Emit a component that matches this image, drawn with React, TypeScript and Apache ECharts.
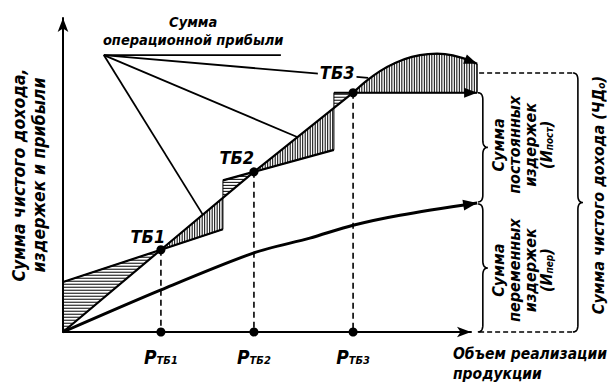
import React, { useEffect, useRef } from "react";
import * as echarts from "echarts";

// ---- data (value units: x = sales volume 0..100, y = amount 0..100) ----
const revenueX = [0, 24.0, 46.8, 71.1];
const revenueY = [0, 26.2, 51.0, 76.2];
const arcX = [71.1, 74.3, 77.7, 81.4, 85.5, 89.5, 93.6, 97.8, 101.5];
const arcY = [76.2, 79.9, 83.1, 85.7, 87.6, 88.5, 88.5, 87.3, 85.4];
const costStartX = [0, 39.2, 66.4];
const costStartY = [15.9, 48.3, 76.2];
const costEndX = [39.2, 66.4, 101.5];
const costEndY = [32.7, 58.0, 76.2];
const varCostX = [0, 24.0, 46.8, 60.5, 71.1, 82.6, 101.5];
const varCostY = [0, 13.4, 25.2, 29.9, 34.0, 37.2, 41.1];
const breakEvenNames = ["ТБ1", "ТБ2", "ТБ3"];
const breakEvenX = [24.0, 46.8, 71.1];
const breakEvenY = [26.2, 51.0, 76.2];

// ---- annotation layout (value units) ----
const breakEvenLabelPos = [[20.8, 30.3], [42.6, 55.7], [67.2, 82.8]];
const pointerOrigin = [10.0, 88.2];
const pointerTargets = [[53.4, 88.2], [74.8, 80.9], [57.4, 62.1], [34.3, 37.3]];
const profitTitlePos = [31.9, 95.9];
const innerBraceX = 102.9;
const outerBraceX = 126.2;
const topLevelY = 82.5;
const fixedTextPos = [112.6, 59.6];
const varTextPos = [112.6, 19.7];
const totalTextPos = [131.2, 43.6];

const FONT = '"Liberation Sans Narrow", "DejaVu Sans Condensed", "Liberation Sans", sans-serif';

const allRevX = revenueX.concat(arcX.slice(1));
const allRevY = revenueY.concat(arcY.slice(1));
function rev(x: number) {
  for (let i = 0; i < allRevX.length - 1; i++) {
    if (x >= allRevX[i] && x <= allRevX[i + 1]) {
      const t = (x - allRevX[i]) / (allRevX[i + 1] - allRevX[i]);
      return allRevY[i] + t * (allRevY[i + 1] - allRevY[i]);
    }
  }
  return allRevY[allRevY.length - 1];
}

function hatch(pts: number[][], dir: "h" | "v", gap: number) {
  const a = dir === "h" ? 1 : 0;
  const b = 1 - a;
  let min = Infinity, max = -Infinity;
  pts.forEach((p) => { min = Math.min(min, p[a]); max = Math.max(max, p[a]); });
  const out: any[] = [];
  for (let s = min + gap / 2; s < max; s += gap) {
    const xs: number[] = [];
    for (let i = 0; i < pts.length; i++) {
      const p = pts[i], q = pts[(i + 1) % pts.length];
      if ((p[a] <= s && q[a] > s) || (q[a] <= s && p[a] > s)) {
        const t = (s - p[a]) / (q[a] - p[a]);
        xs.push(p[b] + t * (q[b] - p[b]));
      }
    }
    xs.sort((u, v) => u - v);
    for (let k = 0; k + 1 < xs.length; k += 2) {
      const p1 = [0, 0], p2 = [0, 0];
      p1[a] = s; p1[b] = xs[k]; p2[a] = s; p2[b] = xs[k + 1];
      out.push({ type: "line", shape: { x1: p1[0], y1: p1[1], x2: p2[0], y2: p2[1] }, style: { stroke: "#000", lineWidth: 1 } });
    }
  }
  out.push({ type: "polygon", shape: { points: pts }, style: { fill: "none", stroke: "#000", lineWidth: 1 } });
  return out;
}

function arrowHead(from: number[], to: number[], len = 13, w = 5) {
  const dx = to[0] - from[0], dy = to[1] - from[1];
  const L = Math.hypot(dx, dy) || 1;
  const ux = dx / L, uy = dy / L;
  const bx = to[0] - ux * len, by = to[1] - uy * len;
  return {
    type: "polygon",
    shape: { points: [to, [bx - uy * w, by + ux * w], [bx + uy * w, by - ux * w]] },
    style: { fill: "#000" },
  };
}

function quad(p0: number[], c: number[], p1: number[], n = 8) {
  const pts: number[][] = [];
  for (let i = 0; i <= n; i++) {
    const t = i / n;
    pts.push([
      (1 - t) * (1 - t) * p0[0] + 2 * (1 - t) * t * c[0] + t * t * p1[0],
      (1 - t) * (1 - t) * p0[1] + 2 * (1 - t) * t * c[1] + t * t * p1[1],
    ]);
  }
  return pts;
}

function brace(x: number, y1: number, y2: number, w = 5, r = 7) {
  const ym = (y1 + y2) / 2;
  const pts = [
    ...quad([x - w, y1], [x, y1], [x, y1 + r]),
    ...quad([x, ym - r], [x, ym], [x + w, ym]),
    ...quad([x + w, ym], [x, ym], [x, ym + r]),
    ...quad([x, y2 - r], [x, y2], [x - w, y2]),
  ];
  return { type: "polyline", shape: { points: pts }, style: { stroke: "#000", lineWidth: 1.6, fill: "none" } };
}

const textBase = { fontFamily: FONT, fontStyle: "italic", fontWeight: "bold", fill: "#000" };

function renderItem(params: any, api: any) {
  const c = (x: number, y: number) => api.coord([x, y]);
  const ch: any[] = [];

  // hatched loss / profit areas
  for (let i = 0; i < 3; i++) {
    const sx = costStartX[i], sy = costStartY[i], ex = costEndX[i], ey = costEndY[i];
    const bx = breakEvenX[i], by = breakEvenY[i];
    const loss = [c(sx, sy), c(bx, by), c(sx, rev(sx))];
    ch.push(...hatch(loss, "h", 3));
    const prof: number[][] = [c(bx, by)];
    allRevX.forEach((x, k) => { if (x > bx && x < ex) prof.push(c(x, allRevY[k])); });
    prof.push(c(ex, rev(ex)), c(ex, ey));
    ch.push(...hatch(prof, "v", 2.5));
  }

  // revenue line and arc
  ch.push({ type: "polyline", shape: { points: revenueX.map((x, i) => c(x, revenueY[i])) }, style: { stroke: "#000", lineWidth: 2.2, fill: "none" } });
  const arcPts = arcX.map((x, i) => c(x, arcY[i]));
  ch.push({ type: "polyline", shape: { points: arcPts, smooth: 0.4 }, style: { stroke: "#000", lineWidth: 2.2, fill: "none" } });
  ch.push(arrowHead(arcPts[arcPts.length - 2], arcPts[arcPts.length - 1]));

  // total cost steps
  for (let i = 0; i < 3; i++) {
    const p0 = c(costStartX[i], costStartY[i]), p1 = c(costEndX[i], costEndY[i]);
    ch.push({ type: "line", shape: { x1: p0[0], y1: p0[1], x2: p1[0], y2: p1[1] }, style: { stroke: "#000", lineWidth: 2.2 } });
    if (i === 2) ch.push(arrowHead(c(breakEvenX[2], breakEvenY[2]), p1));
  }

  // variable costs
  const vPts = varCostX.map((x, i) => c(x, varCostY[i]));
  ch.push({ type: "polyline", shape: { points: vPts, smooth: 0.3 }, style: { stroke: "#000", lineWidth: 3, fill: "none" } });
  ch.push(arrowHead(vPts[vPts.length - 2], vPts[vPts.length - 1], 14, 5.5));

  // break-even verticals, dots, labels
  for (let i = 0; i < 3; i++) {
    const top = c(breakEvenX[i], breakEvenY[i]), bot = c(breakEvenX[i], 0);
    ch.push({ type: "line", shape: { x1: top[0], y1: top[1], x2: bot[0], y2: bot[1] }, style: { stroke: "#000", lineWidth: 1.6, lineDash: [6, 4] } });
    ch.push({ type: "circle", shape: { cx: top[0], cy: top[1], r: 4.5 }, style: { fill: "#000" } });
    ch.push({ type: "circle", shape: { cx: bot[0], cy: bot[1], r: 4.5 }, style: { fill: "#000" } });
    ch.push({
      type: "text", x: bot[0], y: bot[1] + 23,
      style: {
        text: "{p|P}{s|" + breakEvenNames[i] + "}", align: "center", verticalAlign: "middle",
        rich: {
          p: { ...textBase, fontSize: 19, lineHeight: 22, verticalAlign: "bottom" },
          s: { ...textBase, fontSize: 11, lineHeight: 14, verticalAlign: "bottom" },
        },
      },
    });
  }

  // pointer lines
  const o = c(pointerOrigin[0], pointerOrigin[1]);
  pointerTargets.forEach((t) => {
    const p = c(t[0], t[1]);
    ch.push({ type: "line", shape: { x1: o[0], y1: o[1], x2: p[0], y2: p[1] }, style: { stroke: "#000", lineWidth: 1.8 } });
  });
  breakEvenNames.forEach((n, i) => {
    const p = c(breakEvenLabelPos[i][0], breakEvenLabelPos[i][1]);
    ch.push({
      type: "text", x: p[0], y: p[1],
      style: { ...textBase, text: n, fontSize: 18, align: "center", verticalAlign: "middle", backgroundColor: i === 2 ? "#fff" : undefined, padding: i === 2 ? [0, 2] : 0 },
    });
  });
  const pt = c(profitTitlePos[0], profitTitlePos[1]);
  ch.push({ type: "text", x: pt[0], y: pt[1], style: { ...textBase, text: "Сумма\nоперационной прибыли", fontSize: 14.5, lineHeight: 18, align: "center", verticalAlign: "middle" } });

  // right side brackets
  const endX = costEndX[2];
  const topL = c(endX, topLevelY)[1];
  const ox = c(outerBraceX, 0)[0];
  const ix = c(innerBraceX, 0)[0];
  const ax = c(endX, 0)[0];
  const y0 = c(0, 0)[1];
  ch.push({ type: "line", shape: { x1: ax + 2, y1: topL, x2: ox - 5, y2: topL }, style: { stroke: "#000", lineWidth: 1.6, lineDash: [5, 3] } });
  ch.push({ type: "line", shape: { x1: ax + 2, y1: y0, x2: ox - 5, y2: y0 }, style: { stroke: "#000", lineWidth: 1.6, lineDash: [5, 3] } });
  ch.push(brace(ox, topL, y0));
  const yCost = c(0, costEndY[2])[1];
  const yVar = c(0, varCostY[varCostY.length - 1])[1];
  ch.push(brace(ix, yCost, yVar - 1));
  ch.push(brace(ix, yVar + 1, y0));

  const rot = (pos: number[], text: string, rich?: any) => {
    const p = c(pos[0], pos[1]);
    return {
      type: "text", x: p[0], y: p[1], rotation: Math.PI / 2,
      style: { ...textBase, text, fontSize: 16, lineHeight: 16, align: "center", verticalAlign: "middle", rich },
    };
  };
  const subRich = {
    m: { ...textBase, fontSize: 16, lineHeight: 16, verticalAlign: "bottom" },
    s: { ...textBase, fontSize: 10, lineHeight: 12, verticalAlign: "bottom" },
  };
  ch.push(rot(fixedTextPos, "{m|Сумма}\n{m|постоянных}\n{m|издержек}\n{m|(И}{s|пост}{m|)}", subRich));
  ch.push(rot(varTextPos, "{m|Сумма}\n{m|переменных}\n{m|издержек}\n{m|(И}{s|пер}{m|)}", subRich));
  ch.push(rot(totalTextPos, "{m|Сумма чистого дохода (ЧД}{s|о}{m|)}", subRich));

  return { type: "group", children: ch };
}

export default function App() {
  const ref = useRef<HTMLDivElement>(null);
  useEffect(() => {
    const chart = echarts.init(ref.current!, null, { renderer: "svg" });
    const axisCommon = {
      type: "value",
      min: 0,
      max: 100,
      axisTick: { show: false },
      axisLabel: { show: false },
      splitLine: { show: false },
      axisLine: { show: true, onZero: false, symbol: ["none", "arrow"], symbolSize: [8, 14], lineStyle: { color: "#000", width: 2 } },
    };
    chart.setOption({
      animation: false,
      backgroundColor: "#fff",
      grid: { left: 63, right: 142, top: 18, bottom: 59 },
      xAxis: { ...axisCommon },
      yAxis: {
        ...axisCommon,
        name: "Сумма чистого дохода,\nиздержек и прибыли",
        nameLocation: "middle",
        nameRotate: 90,
        nameGap: 14,
        nameTextStyle: { fontFamily: FONT, fontStyle: "italic", fontWeight: "bold", fontSize: 17.5, lineHeight: 20, color: "#000" },
      },
      graphic: [
        {
          type: "text", right: 6, top: 344,
          style: { text: "Объем реализации\nпродукции", fontFamily: FONT, fontStyle: "italic", fontWeight: "bold", fontSize: 15.5, lineHeight: 20, fill: "#000", align: "right" },
        },
      ],
      series: [
        { type: "custom", data: [[0, 0]], renderItem, silent: true, clip: false, z: 10 },
      ],
    });
    return () => chart.dispose();
  }, []);
  return <div ref={ref} style={{ position: "fixed", left: 0, top: 0, width: 613, height: 391, background: "#fff" }} />;
}
